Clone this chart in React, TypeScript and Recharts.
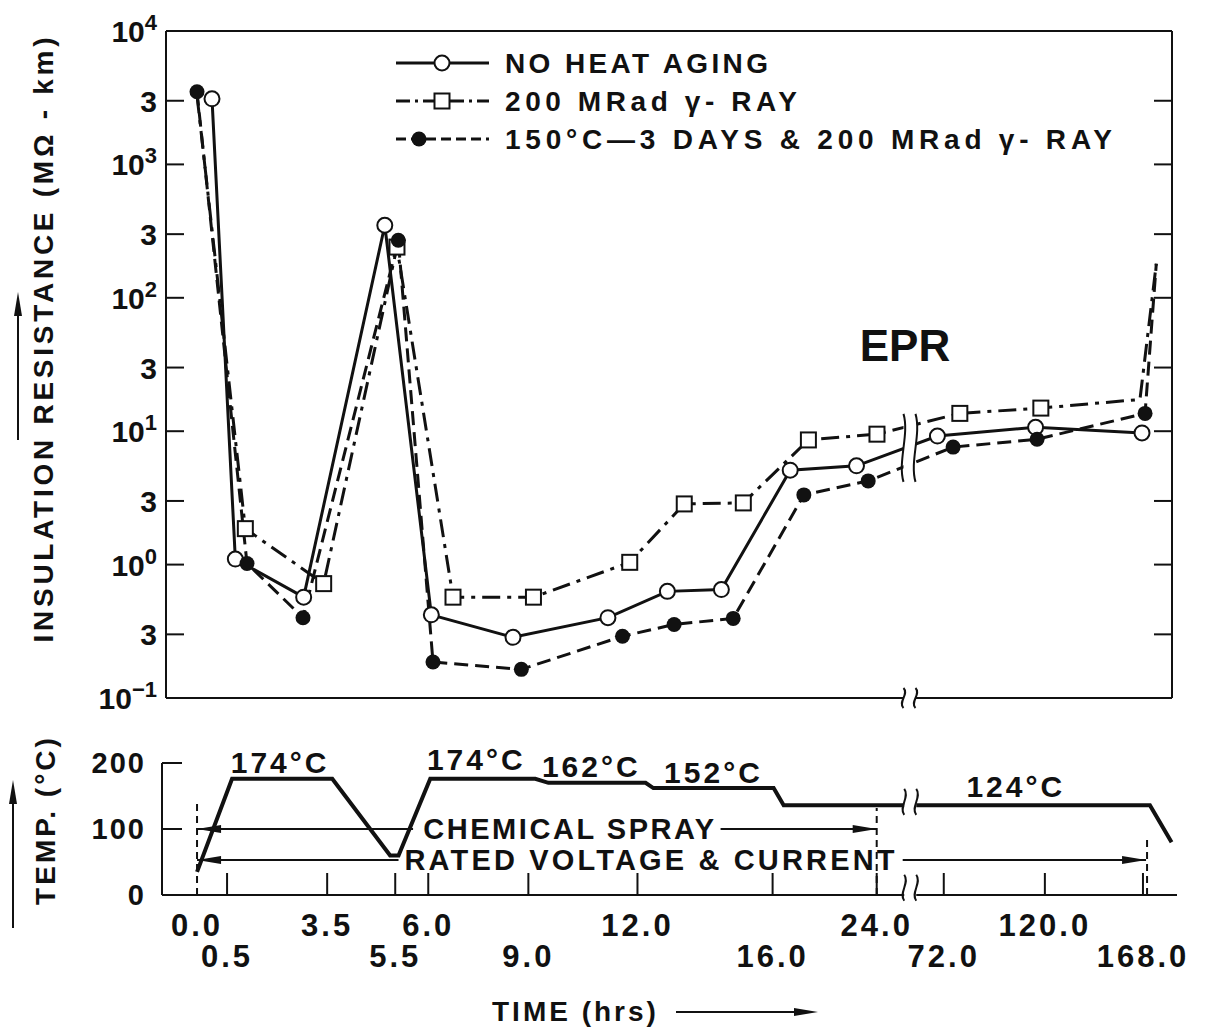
import React from "react";
import { LineChart, Line, XAxis, YAxis, ReferenceDot, ReferenceLine } from "recharts";

const FONT = "'Liberation Sans', Arial, Helvetica, sans-serif";
const INK = "#111";

// time axis of the original is squeezed: hours are warped onto axis units
const TICK_HOURS = [0, 0.5, 3.5, 5.5, 6, 9, 12, 16, 24, 72, 120, 168];
const TICK_LABELS = ["0.0", "0.5", "3.5", "5.5", "6.0", "9.0", "12.0", "16.0", "24.0", "72.0", "120.0", "168.0"];
const TICK_UNITS = [0, 3, 13, 19.8, 23.1, 33.1, 44, 57.5, 67.9, 74.6, 84.7, 94.5];

function warp(h: number) {
    let i = 0;
    while (i < TICK_HOURS.length - 2 && h > TICK_HOURS[i + 1]) i++;
    const h0 = TICK_HOURS[i], h1 = TICK_HOURS[i + 1];
    const u0 = TICK_UNITS[i], u1 = TICK_UNITS[i + 1];
    return u0 + ((h - h0) * (u1 - u0)) / (h1 - h0);
}

// insulation resistance (MOhm-km)
const RES_TICKS = [0.1, 0.3, 1, 3, 10, 30, 100, 300, 1000, 3000, 10000];

const NO_HEAT_HOURS = [0.25, 0.75, 2.8, 5.2, 6.1, 8.55, 11.2, 12.9, 14.5, 17.4, 22.5, 68, 116, 168];
const NO_HEAT_VALUES = [3100, 1.1, 0.57, 350, 0.42, 0.285, 0.4, 0.63, 0.65, 5.1, 5.5, 9.2, 10.7, 9.7];

const GAMMA_HOURS = [0, 1.05, 3.4, 5.53, 6.75, 9.15, 11.8, 13.4, 15.15, 18.8, 24.7, 80, 118.5, 167, 175];
const GAMMA_VALUES = [3300, 1.86, 0.72, 240, 0.57, 0.57, 1.04, 2.85, 2.9, 8.6, 9.5, 13.6, 14.9, 17.3, 180];
const GAMMA_NO_MARK = [0, 13, 14];

const HEAT_HOURS = [0, 1.1, 2.78, 5.55, 6.15, 8.8, 11.6, 13.1, 14.85, 18.45, 23.4, 76.8, 116.7, 169.5, 175];
const HEAT_VALUES = [3500, 1.02, 0.4, 270, 0.186, 0.164, 0.29, 0.356, 0.395, 3.33, 4.24, 7.6, 8.7, 13.6, 180];
const HEAT_NO_MARK = [14];

// temperature profile (deg C)
const TEMP_HOURS = [0, 0.65, 3.65, 5.35, 5.55, 6.06, 9.19, 9.55, 12.24, 12.47, 16.08, 16.85, 171.4, 182];
const TEMP_VALUES = [35, 176, 176, 60, 60, 176, 176, 170, 170, 162, 162, 136, 136, 80];

const TEMP_LABELS = ["174°C", "174°C", "162°C", "152°C", "124°C"];
const TEMP_LABEL_HOURS = [2.09, 7.44, 10.73, 14.25, 106.2];
const TEMP_LABEL_AT = [201, 206, 194, 185, 164];

const SERIES = [
    { key: "gamma", name: "200 MRad γ- RAY", hours: GAMMA_HOURS, values: GAMMA_VALUES, noMark: GAMMA_NO_MARK, marker: "square", dash: "18 7 4 7", legendDash: "14 5 3 5", legendMarkX: 442, legendWidth: 292 },
    { key: "noHeat", name: "NO HEAT AGING", hours: NO_HEAT_HOURS, values: NO_HEAT_VALUES, noMark: [] as number[], marker: "open", dash: undefined, legendDash: undefined, legendMarkX: 442, legendWidth: 263 },
    { key: "heat", name: "150°C—3 DAYS & 200 MRad γ- RAY", hours: HEAT_HOURS, values: HEAT_VALUES, noMark: HEAT_NO_MARK, marker: "filled", dash: "14 7", legendDash: "10 5", legendMarkX: 419, legendWidth: 607 },
];
const LEGEND_ORDER = ["noHeat", "gamma", "heat"];

const TOP_DOMAIN = [-3.1, 97.5];
const BOTTOM_DOMAIN = [-3.5, 97.9];

const textProps = { fontFamily: FONT, fontWeight: "bold" as const, fill: INK };

function Marker({ kind, cx, cy }: { kind: string; cx: number; cy: number }) {
    if (kind === "square") return <rect x={cx - 7.5} y={cy - 7.5} width={15} height={15} fill="#fff" stroke={INK} strokeWidth={2} />;
    if (kind === "filled") return <circle cx={cx} cy={cy} r={7.5} fill={INK} />;
    return <circle cx={cx} cy={cy} r={7.5} fill="#fff" stroke={INK} strokeWidth={2} />;
}

const makeDot = (kind: string) => (p: any) => {
    const { cx, cy, payload, index } = p;
    if (!payload || !payload.mark || cx == null || cy == null) return <g key={`d${index}`} />;
    return <g key={`d${index}`}><Marker kind={kind} cx={cx} cy={cy} /></g>;
};

function ResTick(p: any) {
    const { x, y, payload } = p;
    const v = payload.value;
    const e = Math.floor(Math.log10(v) + 1e-9);
    const m = Math.round(v / Math.pow(10, e));
    return (
        <g>
            <line x1={x} y1={y} x2={x + 18} y2={y} stroke={INK} strokeWidth={2} />
            {m === 1 ? (
                <text x={x - 9} y={y + 11} textAnchor="end" fontSize={30} {...textProps}>
                    10<tspan fontSize={22} dy={-12}>{e < 0 ? "−" + -e : String(e)}</tspan>
                </text>
            ) : (
                <text x={x - 9} y={y + 11} textAnchor="end" fontSize={30} {...textProps}>{m}</text>
            )}
        </g>
    );
}

function RightTick(p: any) {
    const { x, y } = p;
    return <line x1={x} y1={y} x2={x - 18} y2={y} stroke={INK} strokeWidth={2} />;
}

function TimeTick(p: any) {
    const { x, y, index } = p;
    const row = index % 2;
    return (
        <g>
            {index > 0 && <line x1={x} y1={y} x2={x} y2={y - 22} stroke={INK} strokeWidth={2} />}
            <text x={x} y={y + (row ? 72 : 41)} textAnchor="middle" fontSize={31} style={{ letterSpacing: 3 }} {...textProps}>
                {TICK_LABELS[index]}
            </text>
        </g>
    );
}

function TempTick(p: any) {
    const { x, y, payload } = p;
    return (
        <g>
            <line x1={x} y1={y} x2={x + 20} y2={y} stroke={INK} strokeWidth={2} />
            <text x={x - 16} y={y + 10} textAnchor="end" fontSize={29} style={{ letterSpacing: 2 }} {...textProps}>{payload.value}</text>
        </g>
    );
}

const breakShape = (h: number) => (p: any) => {
    const { cx, cy } = p;
    const top = cy - h / 2;
    const bot = cy + h / 2;
    const s = (x: number) => `M${x},${top} C${x + 6},${top + h * 0.3} ${x - 6},${top + h * 0.7} ${x},${bot}`;
    return (
        <g>
            <rect x={cx - 6} y={top} width={12} height={h} fill="#fff" />
            <path d={s(cx - 6)} fill="none" stroke={INK} strokeWidth={2} />
            <path d={s(cx + 6)} fill="none" stroke={INK} strokeWidth={2} />
        </g>
    );
};

const arrowShape = (head: "start" | "end") => (p: any) => {
    const { x1, y1, x2, y2 } = p;
    const tip = head === "start" ? x1 : x2;
    const sgn = head === "start" ? 1 : -1;
    return (
        <g>
            <line x1={x1} y1={y1} x2={x2} y2={y2} stroke={INK} strokeWidth={2} />
            <polygon points={`${tip},${y1} ${tip + sgn * 24},${y1 - 4} ${tip + sgn * 24},${y1 + 4}`} fill={INK} />
        </g>
    );
};

const textShape = (label: string, size: number, width?: number) => (p: any) => {
    const { cx, cy } = p;
    return (
        <text x={cx} y={cy} textAnchor="middle" dominantBaseline="central" fontSize={size}
            textLength={width} lengthAdjust={width ? "spacing" : undefined}
            style={{ letterSpacing: 3 }} {...textProps}>
            {label}
        </text>
    );
};

// spray / rated voltage spans: from, text start, text centre, text end, to, level, text width
const SPANS = [
    { label: "CHEMICAL SPRAY", from: 0, textStart: 5.77, textMid: 10.15, textEnd: 14.46, to: 24, level: 100, width: 294 },
    { label: "RATED VOLTAGE & CURRENT", from: 0, textStart: 5.55, textMid: 12.4, textEnd: 42.6, to: 169.5, level: 53, width: 493 },
];
const DASH_MARKS = [{ at: 0, top: 140 }, { at: 24, top: 132 }, { at: 170, top: 88 }];

export default function App() {
    const tempData = TEMP_HOURS.map((h, i) => ({ u: warp(h), t: TEMP_VALUES[i] }));
    const axisLine = { stroke: INK, strokeWidth: 2 };
    const breakU = warp(48);

    return (
        <div style={{ position: "absolute", left: 0, top: 0, width: 1209, height: 1034, background: "#fff" }}>
            <div style={{ position: "absolute", left: 0, top: 0 }}>
                <LineChart width={1209} height={720} margin={{ top: 30, right: 36, bottom: 21, left: 165 }}>
                    <XAxis xAxisId="x" dataKey="u" type="number" domain={TOP_DOMAIN} allowDataOverflow height={1} tick={false} tickLine={false} axisLine={axisLine} />
                    <XAxis xAxisId="top" orientation="top" dataKey="u" type="number" domain={TOP_DOMAIN} allowDataOverflow height={1} tick={false} tickLine={false} axisLine={axisLine} />
                    <YAxis yAxisId="res" scale="log" type="number" domain={[0.1, 10000]} allowDataOverflow ticks={RES_TICKS} interval={0}
                        width={1} tickSize={0} tickMargin={0} tickLine={false} axisLine={axisLine} tick={(p: any) => <ResTick {...p} />} />
                    <YAxis yAxisId="resR" orientation="right" scale="log" type="number" domain={[0.1, 10000]} allowDataOverflow ticks={RES_TICKS} interval={0}
                        width={1} tickSize={0} tickMargin={0} tickLine={false} axisLine={axisLine} tick={(p: any) => <RightTick {...p} />} />
                    {SERIES.map((s) => (
                        <Line
                            key={s.key}
                            xAxisId="x"
                            yAxisId="res"
                            name={s.name}
                            data={s.hours.map((h, i) => ({ u: warp(h), v: s.values[i], mark: !s.noMark.includes(i) }))}
                            dataKey="v"
                            type="linear"
                            stroke={INK}
                            strokeWidth={3}
                            strokeDasharray={s.dash}
                            dot={makeDot(s.marker)}
                            activeDot={false}
                            isAnimationActive={false}
                        />
                    ))}
                    <ReferenceDot xAxisId="x" yAxisId="res" x={breakU} y={7.5} r={1} ifOverflow="visible" isFront shape={breakShape(68)} />
                    <ReferenceDot xAxisId="x" yAxisId="res" x={breakU} y={0.1} r={1} ifOverflow="visible" isFront shape={breakShape(20)} />
                </LineChart>
            </div>

            <div style={{ position: "absolute", left: 0, top: 720 }}>
                <LineChart width={1209} height={314} margin={{ top: 43, right: 32, bottom: 138, left: 161 }}>
                    <XAxis xAxisId="x" dataKey="u" type="number" domain={BOTTOM_DOMAIN} allowDataOverflow ticks={TICK_HOURS.map(warp)} interval={0}
                        height={1} tickSize={0} tickMargin={0} tickLine={false} axisLine={axisLine} tick={(p: any) => <TimeTick {...p} />} />
                    <YAxis yAxisId="t" type="number" domain={[0, 200]} ticks={[0, 100, 200]} interval={0}
                        width={1} tickSize={0} tickMargin={0} tickLine={false} axisLine={axisLine} tick={(p: any) => <TempTick {...p} />} />
                    <Line xAxisId="x" yAxisId="t" data={tempData} dataKey="t" type="linear" stroke={INK} strokeWidth={4} dot={false} activeDot={false} isAnimationActive={false} />
                    {DASH_MARKS.map((d, i) => (
                        <ReferenceLine key={`dm${i}`} xAxisId="x" yAxisId="t" ifOverflow="visible"
                            segment={[{ x: warp(d.at), y: 0 }, { x: warp(d.at), y: d.top }]}
                            stroke={INK} strokeWidth={2} strokeDasharray="7 5" />
                    ))}
                    {SPANS.map((s, i) => (
                        <ReferenceLine key={`sl${i}`} xAxisId="x" yAxisId="t" ifOverflow="visible"
                            segment={[{ x: warp(s.from), y: s.level }, { x: warp(s.textStart), y: s.level }]}
                            shape={arrowShape("start")} />
                    ))}
                    {SPANS.map((s, i) => (
                        <ReferenceLine key={`sr${i}`} xAxisId="x" yAxisId="t" ifOverflow="visible"
                            segment={[{ x: warp(s.textEnd), y: s.level }, { x: warp(s.to), y: s.level }]}
                            shape={arrowShape("end")} />
                    ))}
                    {SPANS.map((s, i) => (
                        <ReferenceDot key={`st${i}`} xAxisId="x" yAxisId="t" x={warp(s.textMid)} y={s.level} r={1} ifOverflow="visible"
                            shape={textShape(s.label, 29, s.width)} />
                    ))}
                    {TEMP_LABELS.map((l, i) => (
                        <ReferenceDot key={`tl${i}`} xAxisId="x" yAxisId="t" x={warp(TEMP_LABEL_HOURS[i])} y={TEMP_LABEL_AT[i]} r={1} ifOverflow="visible"
                            shape={textShape(l, 30)} />
                    ))}
                    <ReferenceDot xAxisId="x" yAxisId="t" x={breakU} y={141} r={1} ifOverflow="visible" isFront shape={breakShape(26)} />
                    <ReferenceDot xAxisId="x" yAxisId="t" x={breakU} y={11} r={1} ifOverflow="visible" isFront shape={breakShape(26)} />
                </LineChart>
            </div>

            <svg width={1209} height={1034} style={{ position: "absolute", left: 0, top: 0, pointerEvents: "none" }}>
                {/* legend */}
                {LEGEND_ORDER.map((k, i) => {
                    const s = SERIES.find((d) => d.key === k)!;
                    const y = 63 + i * 38;
                    return (
                        <g key={k}>
                            <line x1={396} y1={y} x2={489} y2={y} stroke={INK} strokeWidth={3} strokeDasharray={s.legendDash} />
                            <Marker kind={s.marker} cx={s.legendMarkX} cy={y} />
                            <text x={505} y={y + 10} fontSize={28} textLength={s.legendWidth} lengthAdjust="spacing" {...textProps}>{s.name}</text>
                        </g>
                    );
                })}

                <text x={905} y={345} textAnchor="middle" dominantBaseline="central" fontSize={44} {...textProps}>EPR</text>

                {/* axis titles */}
                <text transform="translate(43,340) rotate(-90)" textAnchor="middle" dominantBaseline="central" fontSize={28} textLength={605} lengthAdjust="spacing" {...textProps}>
                    INSULATION RESISTANCE (MΩ - km)
                </text>
                <line x1={18} y1={440} x2={18} y2={312} stroke={INK} strokeWidth={2} />
                <polygon points="18,292 14,316 22,316" fill={INK} />

                <text transform="translate(45,820) rotate(-90)" textAnchor="middle" dominantBaseline="central" fontSize={28} style={{ letterSpacing: 3 }} {...textProps}>
                    TEMP. (°C)
                </text>
                <line x1={13} y1={928} x2={13} y2={800} stroke={INK} strokeWidth={2} />
                <polygon points="13,780 9,804 17,804" fill={INK} />

                <text x={492} y={1021} fontSize={28} style={{ letterSpacing: 3 }} {...textProps}>TIME (hrs)</text>
                <line x1={676} y1={1012} x2={796} y2={1012} stroke={INK} strokeWidth={2} />
                <polygon points="818,1012 794,1008 794,1016" fill={INK} />
            </svg>
        </div>
    );
}
